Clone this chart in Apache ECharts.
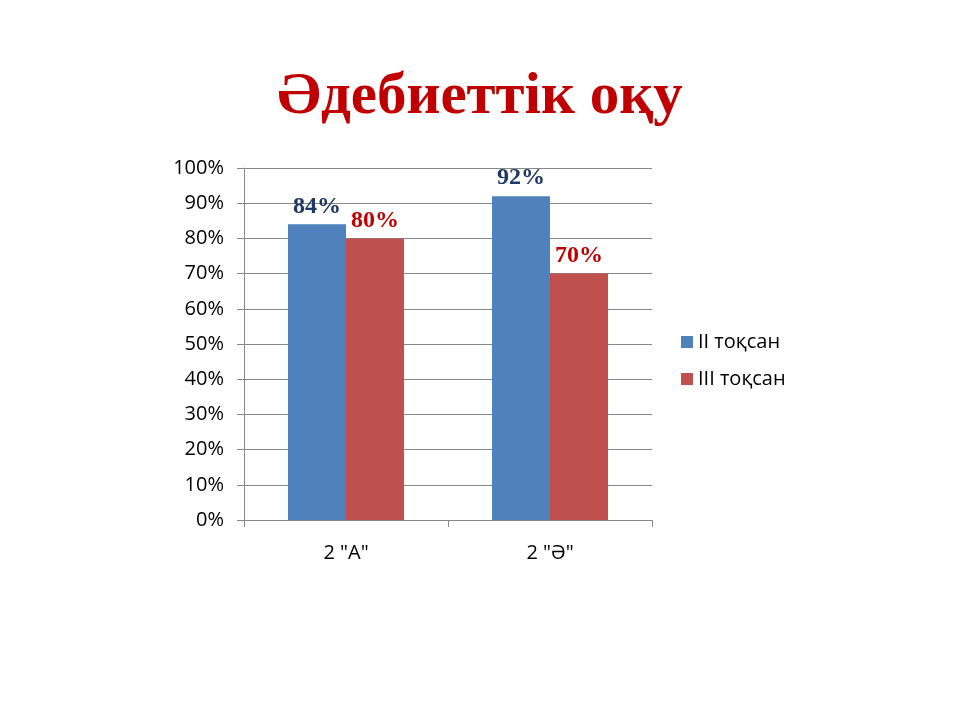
<!DOCTYPE html>
<html><head><meta charset="utf-8">
<script src="https://cdn.jsdelivr.net/npm/echarts@6/dist/echarts.min.js"></script>
<style>html,body{margin:0;padding:0;background:#fff}#c{width:960px;height:720px}</style>
</head><body><div id="c"></div>
<script>
const titleText = 'Әдебиеттік оқу';
const categories = ['2 "А"', '2 "Ә"'];
const seriesNames = ['II тоқсан', 'III тоқсан'];
const seriesII = [84, 92];
const seriesIII = [80, 70];
const yTicks = [0, 10, 20, 30, 40, 50, 60, 70, 80, 90, 100];

const chart = echarts.init(document.getElementById('c'));
const axisFont = {fontFamily: '"Open Sans", "Liberation Sans", sans-serif', fontSize: 20, color: '#000'};
const lbl = (color) => ({show: true, position: 'top', distance: 6, formatter: '{c}%',
  fontFamily: '"Liberation Serif", "DejaVu Serif", serif', fontWeight: 'bold', fontSize: 24, color: color});
chart.setOption({
  animation: false,
  title: {text: titleText, left: 'center', top: 63,
    textStyle: {fontFamily: '"Liberation Serif", "DejaVu Serif", serif', fontWeight: 'bold', fontSize: 59, color: '#C00000'}},
  legend: {orient: 'vertical', left: 676, top: 327, itemGap: 17, itemWidth: 12, itemHeight: 12,
    icon: 'rect', data: seriesNames, textStyle: axisFont},
  grid: {left: 244, right: 308, top: 168, bottom: 200, containLabel: false},
  xAxis: {type: 'category', data: categories,
    axisLine: {lineStyle: {color: '#888', width: 1}},
    axisTick: {show: true, length: 7, lineStyle: {color: '#888'}},
    axisLabel: Object.assign({margin: 23}, axisFont)},
  yAxis: {type: 'value', min: 0, max: 100, interval: 10,
    axisLine: {show: true, lineStyle: {color: '#888', width: 1}},
    axisTick: {show: true, length: 7, lineStyle: {color: '#888'}},
    splitLine: {lineStyle: {color: '#888', width: 1}},
    axisLabel: Object.assign({margin: 20, formatter: (v) => yTicks.includes(v) ? v + '%' : ''}, axisFont)},
  series: [
    {name: seriesNames[0], type: 'bar', data: seriesII, barWidth: 58, barGap: '0%',
      itemStyle: {color: '#4F81BD'}, label: lbl('#1F3864')},
    {name: seriesNames[1], type: 'bar', data: seriesIII, barWidth: 58,
      itemStyle: {color: '#C0504D'}, label: lbl('#C00000')}
  ]
});
</script></body></html>
